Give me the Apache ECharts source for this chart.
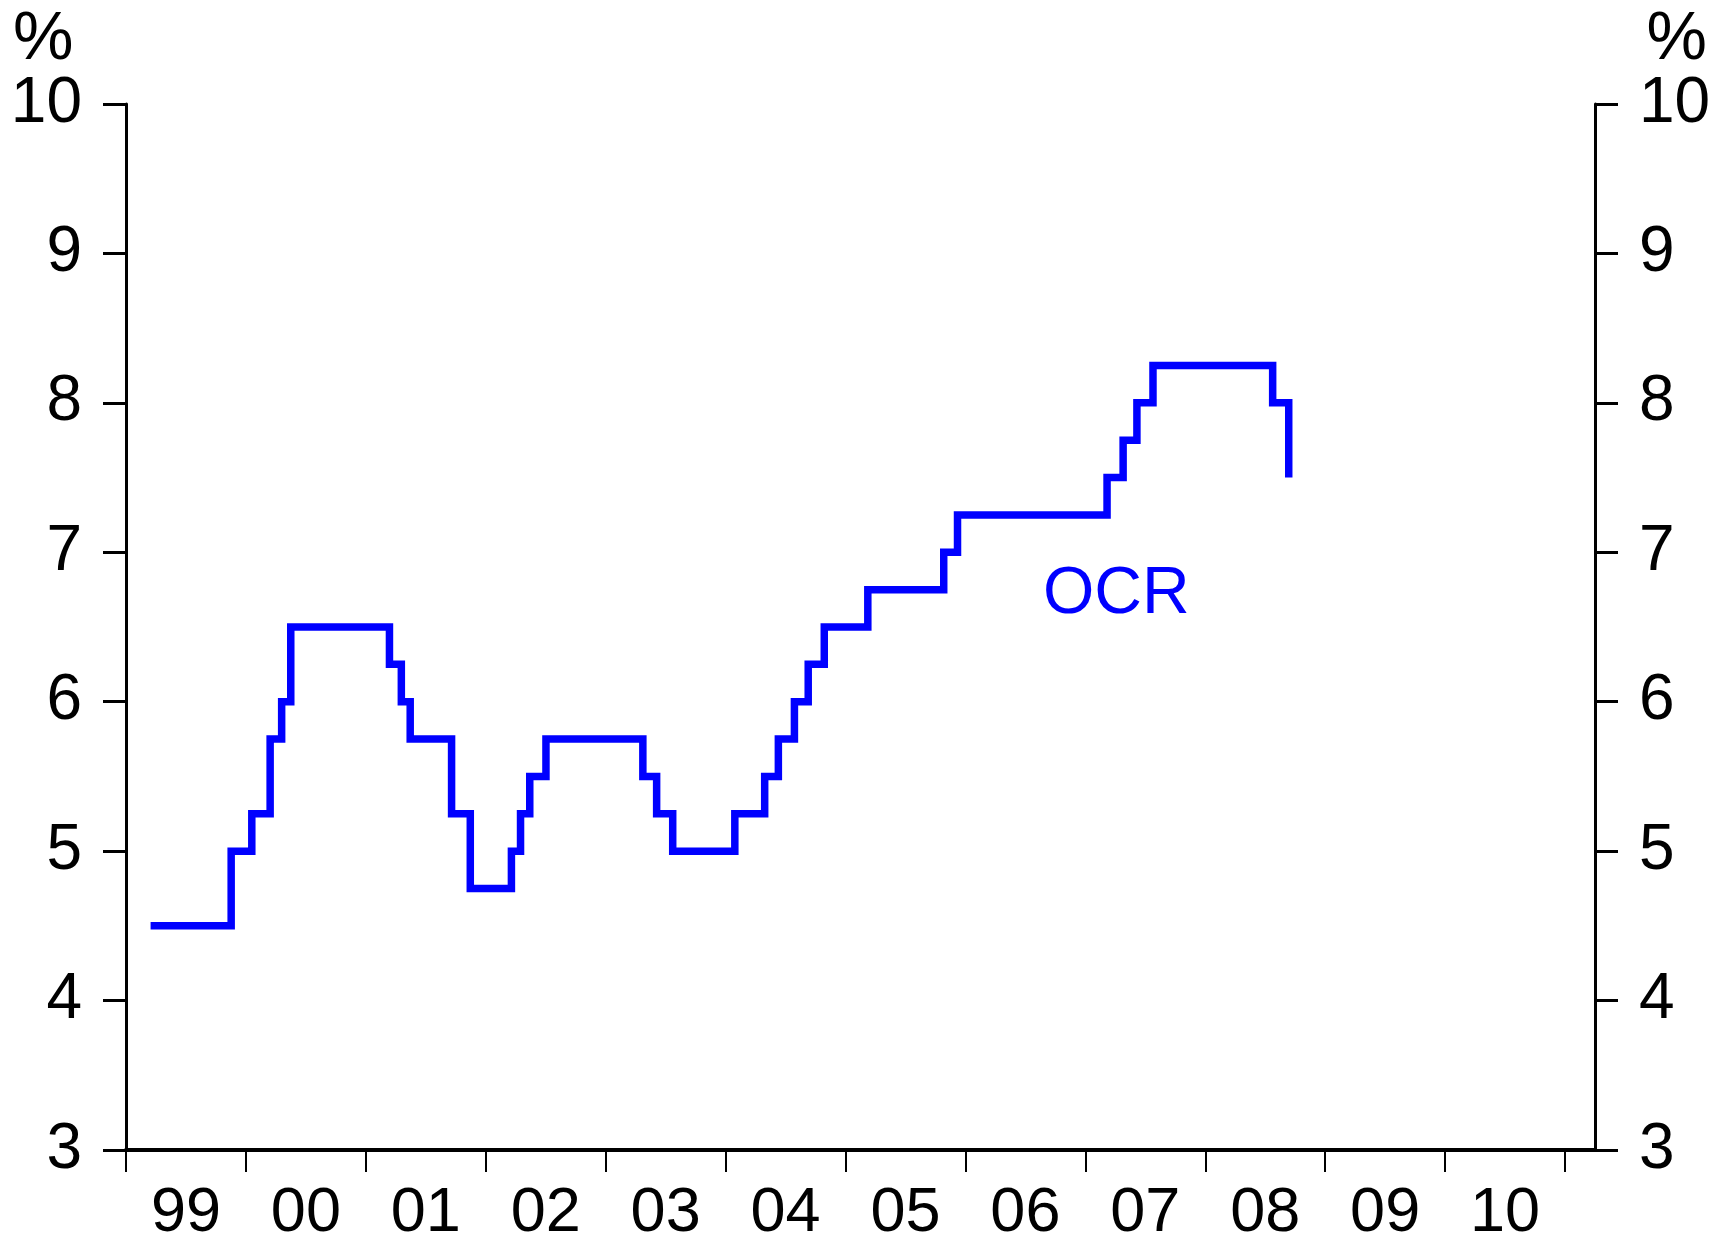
<!DOCTYPE html>
<html>
<head>
<meta charset="utf-8">
<script src="https://cdn.jsdelivr.net/npm/echarts@6/dist/echarts.min.js"></script>
<style>
  html, body { margin: 0; padding: 0; background: #fff; }
  #main { width: 1724px; height: 1242px; }
</style>
</head>
<body>
<div id="main"></div>
<script>
// OCR decision dates (decimal years) and the new rate set on each
const changeDates = [
  1999.205, 1999.877, 2000.049, 2000.202, 2000.298, 2000.374,
  2001.197, 2001.296, 2001.370, 2001.715, 2001.871,
  2002.214, 2002.290, 2002.367, 2002.502,
  2003.310, 2003.425, 2003.559,
  2004.077, 2004.326, 2004.440, 2004.574, 2004.689, 2004.823,
  2005.186, 2005.819, 2005.934,
  2007.181, 2007.315, 2007.430, 2007.564,
  2008.562, 2008.696
];
const ocrRates = [
  4.50, 5.00, 5.25, 5.75, 6.00, 6.50,
  6.25, 6.00, 5.75, 5.25, 4.75,
  5.00, 5.25, 5.50, 5.75,
  5.50, 5.25, 5.00,
  5.25, 5.50, 5.75, 6.00, 6.25, 6.50,
  6.75, 7.00, 7.25,
  7.50, 7.75, 8.00, 8.25,
  8.00, 7.50
];
const yearLabels = ['99', '00', '01', '02', '03', '04', '05', '06', '07', '08', '09', '10'];
const yearTicks = [1999, 2000, 2001, 2002, 2003, 2004, 2005, 2006, 2007, 2008, 2009, 2010, 2011];
const labelPositions = [1999.5, 2000.5, 2001.5, 2002.5, 2003.5, 2004.5, 2005.5, 2006.5, 2007.5, 2008.5, 2009.5, 2010.5];

const font = 'Liberation Sans, Arial, sans-serif';
const black = '#000';

const yAxisCommon = {
  type: 'value',
  min: 3,
  max: 10,
  interval: 1,
  splitLine: { show: false },
  axisLine: { show: true, lineStyle: { color: black, width: 3 } },
  axisTick: { show: true, length: 23, lineStyle: { color: black, width: 3 } },
  axisLabel: { color: black, fontSize: 64, fontFamily: font, margin: 44 }
};

const chart = echarts.init(document.getElementById('main'));
chart.setOption({
  animation: false,
  backgroundColor: '#fff',
  grid: { left: 126, right: 129, top: 104, bottom: 92, containLabel: false, outerBoundsMode: 'none' },
  xAxis: {
    type: 'value',
    min: 1999,
    max: 2011.25,
    splitLine: { show: false },
    axisLine: { show: true, onZero: false, lineStyle: { color: black, width: 4 } },
    axisTick: { show: true, length: 22, customValues: yearTicks, lineStyle: { color: black, width: 2 } },
    axisLabel: {
      color: black, fontSize: 63, fontFamily: font, margin: 32,
      customValues: labelPositions,
      formatter: v => yearLabels[Math.floor(v) - 1999]
    }
  },
  yAxis: [
    Object.assign({}, yAxisCommon, { position: 'left' }),
    Object.assign({}, yAxisCommon, { position: 'right' })
  ],
  graphic: [
    { type: 'text', left: 13, top: 6, style: { text: '%', fontSize: 68, fontFamily: font, fill: black } },
    { type: 'text', right: 17, top: 6, style: { text: '%', fontSize: 68, fontFamily: font, fill: black } },
    { type: 'text', left: 1043, top: 562, style: { text: 'OCR', fontSize: 66, fontFamily: font, fill: '#0000ff' } }
  ],
  series: [{
    name: 'OCR',
    type: 'line',
    step: 'end',
    symbol: 'none',
    data: changeDates.map((d, i) => [d, ocrRates[i]]),
    lineStyle: { color: '#0000ff', width: 7.5, join: 'miter', cap: 'butt' }
  }]
});
</script>
</body>
</html>
